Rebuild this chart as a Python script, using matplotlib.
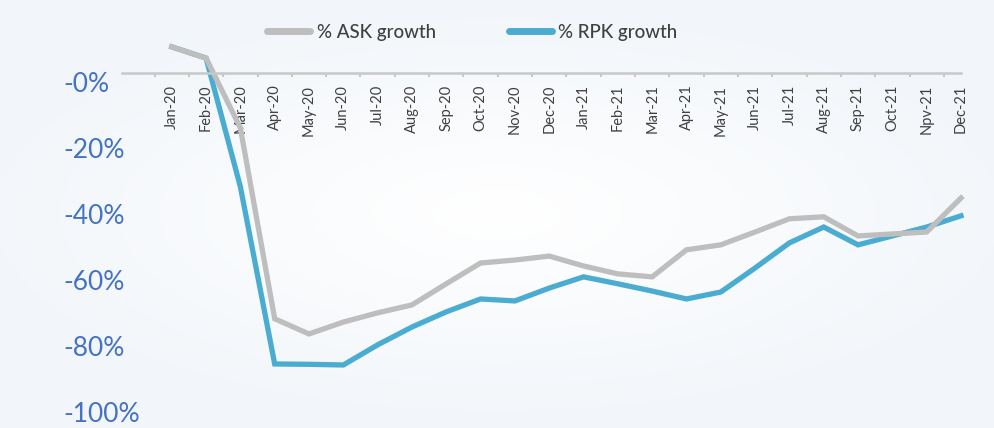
import numpy as np
import matplotlib
matplotlib.use("Agg")
import matplotlib.pyplot as plt
from matplotlib.lines import Line2D
from matplotlib.transforms import ScaledTranslation

# Monthly growth vs. 2019, in percent
months = ["Jan-20", "Feb-20", "Mar-20", "Apr-20", "May-20", "Jun-20",
          "Jul-20", "Aug-20", "Sep-20", "Oct-20", "Nov-20", "Dec-20",
          "Jan-21", "Feb-21", "Mar-21", "Apr-21", "May-21", "Jun-21",
          "Jul-21", "Aug-21", "Sep-21", "Oct-21", "Npv-21", "Dec-21"]
ask_growth = [7.9, 4.5, -16.7, -74.5, -79.1, -75.5, -72.7, -70.3, -63.9, -57.6,
              -56.7, -55.5, -58.5, -60.9, -61.8, -53.6, -52.1, -48.2, -44.2,
              -43.6, -49.4, -48.8, -48.2, -37.9]
rpk_growth = [7.9, 4.5, -34.5, -88.2, -88.3, -88.5, -82.4, -77.0, -72.4, -68.5,
              -69.1, -65.2, -61.8, -63.9, -66.1, -68.5, -66.4, -59.1, -51.5,
              -46.7, -52.1, -49.4, -46.7, -43.3]
y_ticks = [0, -20, -40, -60, -80, -100]
y_labels = ["-0%", "-20%", "-40%", "-60%", "-80%", "-100%"]

plt.rcParams["font.family"] = ["Lato", "DejaVu Sans"]

fig = plt.figure(figsize=(9.94, 4.28), dpi=100)
fig.patch.set_facecolor("#F3F7FB")

# soft radial background
bg = fig.add_axes([0, 0, 1, 1])
gx, gy = np.meshgrid(np.linspace(-1, 1, 400), np.linspace(-1, 1, 200))
r = np.sqrt((gx / 1.1) ** 2 + (gy / 1.0) ** 2)
bg.imshow(np.clip(r, 0, 1), cmap=matplotlib.colors.LinearSegmentedColormap.from_list(
    "bg", ["#FFFFFF", "#F2F6FA"]), aspect="auto", extent=[0, 1, 0, 1])
bg.set_axis_off()

ax = fig.add_axes([122 / 994, 0, (961 - 122) / 994, 1])
ax.patch.set_alpha(0)

x = np.arange(len(months))
ax.plot(x, rpk_growth, color="#4BACD1", lw=3.8, solid_joinstyle="miter", clip_on=False)
ax.plot(x, ask_growth, color="#BEBEBE", lw=3.8, solid_joinstyle="miter", clip_on=False)

ax.set_xlim(-1.45, 23)
ax.set_ylim(-107.6, 22.1)

for s in ["left", "right", "top"]:
    ax.spines[s].set_visible(False)
ax.spines["bottom"].set_position(("data", 0))
ax.spines["bottom"].set_color("#C8C8C8")
ax.spines["bottom"].set_linewidth(1.8)

ax.set_xticks(x)
ax.set_xticklabels(months, rotation=90, fontsize=10.5, color="#404040", va="top")
ax.set_xticks(x - 0.5, minor=True)
ax.tick_params(axis="x", which="major", length=0, pad=8.5)
ax.tick_params(axis="x", which="minor", length=3, width=1.5, color="#C8C8C8", direction="out")

ax.set_yticks(y_ticks)
ax.set_yticklabels(y_labels, fontsize=19, color="#4472C4")
ax.tick_params(axis="y", length=0, pad=42.5)
shift = ScaledTranslation(0, -9 / 100, fig.dpi_scale_trans)
for lab in ax.get_yticklabels():
    lab.set_horizontalalignment("left")
    lab.set_transform(lab.get_transform() + shift)

handles = [Line2D([], [], color="#BEBEBE", lw=5, solid_capstyle="round"),
           Line2D([], [], color="#4BACD1", lw=5, solid_capstyle="round")]
fig.legend(handles, ["% ASK growth", "% RPK growth"], ncol=2, frameon=False,
           loc="center", bbox_to_anchor=(0.475, 0.925),
           prop={"size": 13.5, "weight": "medium"},
           labelcolor="#404040", handlelength=2.3, handletextpad=0.35,
           columnspacing=3.9)

fig.savefig("out.png", dpi=100, facecolor=fig.get_facecolor())
